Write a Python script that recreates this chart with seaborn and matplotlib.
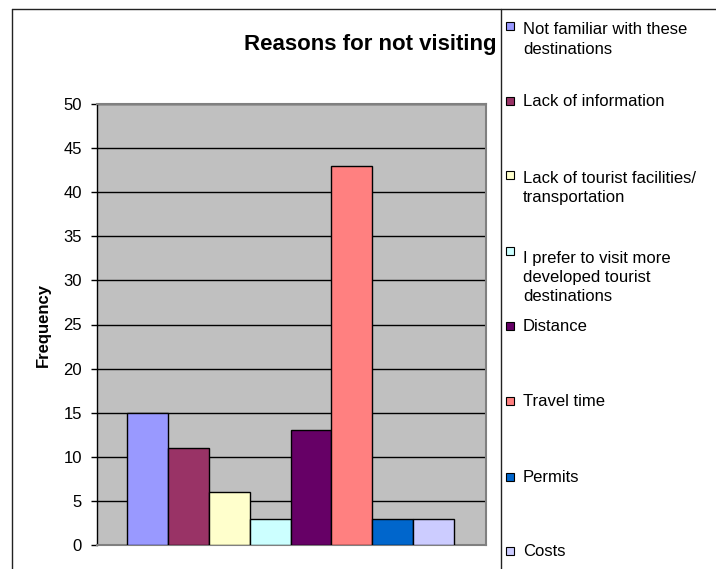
import matplotlib
matplotlib.use("Agg")
import matplotlib.pyplot as plt
from matplotlib.lines import Line2D
from matplotlib.patches import Rectangle
import seaborn as sns
import pandas as pd

# Survey responses: reasons for not visiting the destinations
reasons = [
    "Not familiar with these\ndestinations",
    "Lack of information",
    "Lack of tourist facilities/\ntransportation",
    "I prefer to visit more\ndeveloped tourist\ndestinations",
    "Distance",
    "Travel time",
    "Permits",
    "Costs",
]
frequency = [15, 11, 6, 3, 13, 43, 3, 3]
colors = ["#9999FF", "#993366", "#FFFFCC", "#CCFFFF",
          "#660066", "#FF8080", "#0066CC", "#CCCCFF"]
y_ticks = [0, 5, 10, 15, 20, 25, 30, 35, 40, 45, 50]

df = pd.DataFrame({"reason": reasons, "frequency": frequency})

sns.set_style("white")
plt.rcParams["font.family"] = ["Liberation Sans", "DejaVu Sans"]
plt.rcParams["text.color"] = "black"
plt.rcParams["ytick.color"] = "black"
plt.rcParams["ytick.labelcolor"] = "black"

W, H = 716, 569
fig = plt.figure(figsize=(W / 100, H / 100), dpi=100, facecolor="white")


def fx(px):
    return px / W


def fy(py):
    return 1 - py / H


ax = fig.add_axes([fx(97), fy(545), fx(486 - 97), (545 - 104) / H])
ax.set_facecolor("#C0C0C0")

sns.barplot(data=df, x="reason", y="frequency", hue="reason",
            palette=dict(zip(reasons, colors)), order=reasons,
            width=1.0, saturation=1.0, edgecolor="black", linewidth=1.0,
            legend=False, ax=ax, zorder=3)

ax.set_xlim(-1.233, 8.28)
ax.set_ylim(0, 50)
ax.set_yticks(y_ticks)
ax.set_yticklabels([str(t) for t in y_ticks], fontsize=12)
ax.set_xticks([])
ax.set_xlabel("")
ax.set_ylabel("")
ax.yaxis.grid(True, color="black", linewidth=1.0, zorder=1)
ax.set_axisbelow(True)
ax.tick_params(axis="y", direction="out", length=4.3, width=1,
               color="black", pad=6.5, left=True)

for side in ("top", "right", "bottom"):
    ax.spines[side].set_color("#808080")
    ax.spines[side].set_linewidth(1.5)
ax.spines["left"].set_color("black")
ax.spines["left"].set_linewidth(1.0)

# Chart title and axis title
fig.text(fx(370), fy(50), "Reasons for not visiting", ha="center",
         va="baseline", fontsize=16, fontweight="bold")
fig.text(fx(43), fy(325), "Frequency", ha="center", va="center",
         rotation=90, fontsize=12, fontweight="bold")

# Chart frame and legend panel divider
frame_kw = dict(color="#222222", linewidth=1.0, transform=fig.transFigure)
fig.add_artist(Line2D([fx(12), 1.0], [fy(9), fy(9)], **frame_kw))
fig.add_artist(Line2D([fx(12), fx(12)], [fy(9), 0.0], **frame_kw))
fig.add_artist(Line2D([fx(501), fx(501)], [fy(9), 0.0], **frame_kw))

# Legend entries, anchored on the baseline of each label's first line
legend_fs = 12
line_px = 22.5
box_px = 8
legend_baselines = [31, 106, 180, 256, 331, 406, 482, 556]
for label, col, base in zip(reasons, colors, legend_baselines):
    cy = base - 5
    fig.add_artist(Rectangle((fx(506.5), fy(cy + box_px / 2)),
                             box_px / W, box_px / H,
                             facecolor=col, edgecolor="black", linewidth=0.8,
                             transform=fig.transFigure))
    n_lines = label.count("\n") + 1
    last_base = base + (n_lines - 1) * line_px
    fig.text(fx(523), fy(last_base), label, ha="left", va="baseline",
             fontsize=legend_fs,
             linespacing=line_px / (legend_fs * 100 / 72))

fig.savefig("out.png", dpi=100, facecolor="white")
